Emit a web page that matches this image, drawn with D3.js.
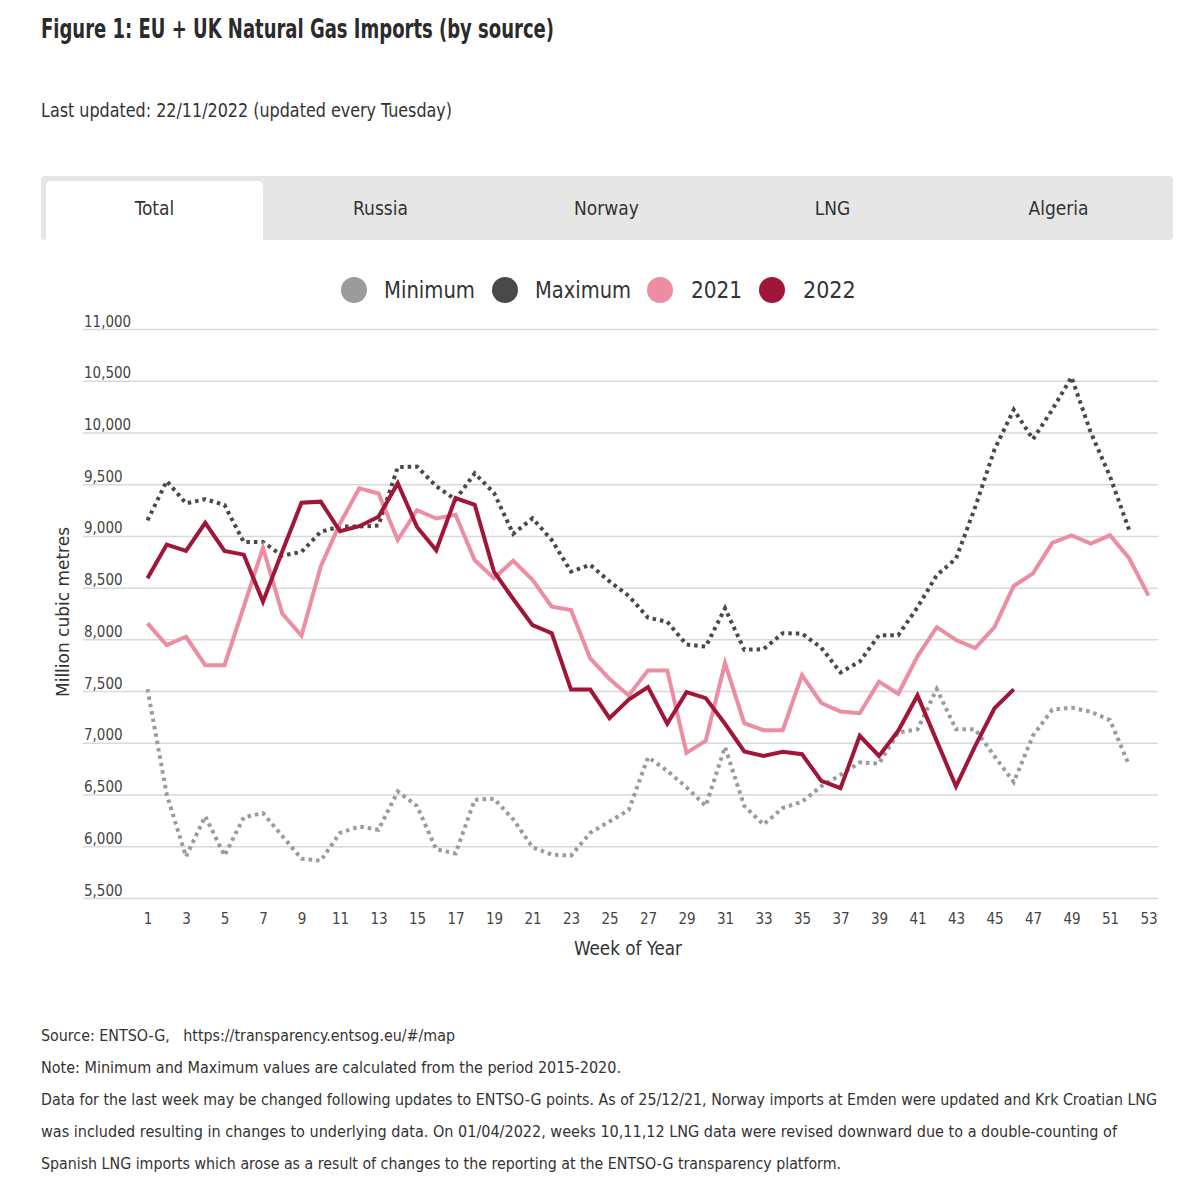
<!DOCTYPE html>
<html>
<head>
<meta charset="utf-8">
<script src="https://cdn.jsdelivr.net/npm/d3@7"></script>
<style>
  html, body { margin: 0; padding: 0; background: #fff; }
  svg { display: block; }
  text { font-family: "Liberation Sans Narrow", "DejaVu Sans Condensed", "Roboto Condensed", "Open Sans", sans-serif; }
</style>
</head>
<body>
<svg id="chart" width="1199" height="1192"></svg>
<script>
// ---- data ----
const weeks = [1,2,3,4,5,6,7,8,9,10,11,12,13,14,15,16,17,18,19,20,21,22,23,24,25,26,27,28,29,30,31,32,33,34,35,36,37,38,39,40,41,42,43,44,45,46,47,48,49,50,51,52,53];
const xTickLabels = [1,3,5,7,9,11,13,15,17,19,21,23,25,27,29,31,33,35,37,39,41,43,45,47,49,51,53];
const yTickLabels = [5500,6000,6500,7000,7500,8000,8500,9000,9500,10000,10500,11000];
const tabs = ["Total", "Russia", "Norway", "LNG", "Algeria"];
const seriesNames = ["Minimum", "Maximum", "2021", "2022"];

const minimum = [7520,6500,5900,6290,5910,6280,6320,6100,5880,5860,6130,6190,6160,6530,6390,5970,5930,6450,6460,6260,5990,5920,5910,6130,6240,6350,6860,6730,6570,6390,6960,6390,6210,6370,6430,6580,6690,6810,6800,7100,7130,7520,7130,7130,6870,6620,7070,7320,7340,7300,7220,6780];
const maximum = [9150,9530,9315,9355,9300,8940,8940,8810,8845,9040,9090,9090,9100,9665,9670,9480,9350,9605,9415,9020,9170,8960,8655,8720,8560,8420,8210,8170,7950,7930,8300,7900,7905,8060,8055,7920,7680,7785,8040,8040,8310,8620,8780,9280,9835,10220,9935,10220,10535,10000,9575,9055];
const y2021 = [8155,7945,8025,7750,7750,8315,8885,8250,8035,8705,9120,9460,9410,8960,9248,9168,9205,8765,8590,8760,8575,8316,8284,7816,7617,7458,7700,7700,6903,7019,7770,7190,7122,7122,7655,7385,7302,7286,7591,7474,7836,8118,7994,7915,8118,8516,8638,8933,9006,8926,9006,8782,8423];
const y2022 = [8590,8916,8855,9126,8855,8819,8365,8850,9321,9331,9045,9094,9185,9510,9087,8862,9365,9300,8654,8390,8138,8060,7515,7515,7239,7419,7539,7184,7490,7432,7184,6916,6874,6913,6890,6632,6561,7068,6874,7116,7458,7019,6578,6971,7334,7516];

const colors = { "Minimum": "#9b9b9b", "Maximum": "#494949", "2021": "#ec8da1", "2022": "#a01538" };

// ---- drawing ----
const svg = d3.select("#chart");

function fitText(sel, target) {
  sel.each(function() {
    const len = this.getComputedTextLength();
    if (Math.abs(len - target) / target > 0.02) {
      d3.select(this).attr("textLength", target).attr("lengthAdjust", "spacingAndGlyphs");
    }
  });
}

// Title & subtitle
svg.append("text").attr("x", 41).attr("y", 38)
  .attr("font-size", 27).attr("font-weight", "bold").attr("fill", "#2b2b2b")
  .text("Figure 1: EU + UK Natural Gas Imports (by source)")
  .call(fitText, 513);
svg.append("text").attr("x", 41).attr("y", 117)
  .attr("font-size", 19).attr("fill", "#333")
  .text("Last updated: 22/11/2022 (updated every Tuesday)")
  .call(fitText, 411);

// Tabs
svg.append("rect").attr("x", 41).attr("y", 176).attr("width", 1132).attr("height", 64)
  .attr("rx", 4).attr("fill", "#e6e6e6");
svg.append("path")
  .attr("d", "M46,240 V186 Q46,181 51,181 H258 Q263,181 263,186 V240 Z")
  .attr("fill", "#fff");
const tabX = d3.scalePoint().domain(tabs).range([154.5, 1058.5]);
svg.selectAll("text.tab").data(tabs).join("text").attr("class", "tab")
  .attr("x", d => tabX(d)).attr("y", 215).attr("text-anchor", "middle")
  .attr("font-size", 19).attr("fill", "#333").text(d => d);

// Legend
const legendItems = [
  { name: "Minimum", cx: 354, tx: 384, w: 91 },
  { name: "Maximum", cx: 505, tx: 535, w: 96 },
  { name: "2021", cx: 660, tx: 691, w: 51 },
  { name: "2022", cx: 772, tx: 803, w: 52 }
];
const lg = svg.append("g");
lg.selectAll("circle").data(legendItems).join("circle")
  .attr("cx", d => d.cx).attr("cy", 290).attr("r", 13)
  .attr("fill", d => colors[d.name]);
lg.selectAll("text").data(legendItems).join("text")
  .attr("x", d => d.tx).attr("y", 298).attr("font-size", 23).attr("fill", "#333")
  .text(d => d.name)
  .each(function(d) { d3.select(this).call(fitText, d.w); });

// Scales
const x = d3.scaleLinear().domain([1, 53]).range([147.5, 1148.5]);
const y = d3.scaleLinear().domain([5500, 11000]).range([898, 329]);

// Y axis with gridlines
const yAxis = d3.axisRight(y).tickValues(yTickLabels).tickSize(1158 - 83).tickFormat(d3.format(","));
const gy = svg.append("g").attr("transform", "translate(83,0)").call(yAxis);
gy.select(".domain").remove();
gy.selectAll(".tick line").attr("stroke", "#d9d9d9").attr("stroke-width", 1.5);
gy.selectAll(".tick text").attr("x", 1).attr("dy", -3).attr("text-anchor", "start")
  .attr("font-size", 15).attr("fill", "#444");
gy.attr("font-family", null);

// X axis
const xAxis = d3.axisBottom(x).tickValues(xTickLabels).tickSize(0).tickFormat(d3.format("d"));
const gx = svg.append("g").attr("transform", "translate(0,910)").call(xAxis);
gx.select(".domain").remove();
gx.selectAll(".tick text").attr("font-size", 15).attr("fill", "#444").attr("dy", "0.71em");
gx.attr("font-family", null);

// Axis titles
svg.append("text").attr("transform", "translate(69,612) rotate(-90)")
  .attr("text-anchor", "middle").attr("font-size", 18).attr("fill", "#333")
  .text("Million cubic metres").call(fitText, 170);
svg.append("text").attr("x", 628).attr("y", 955).attr("text-anchor", "middle")
  .attr("font-size", 20).attr("fill", "#333").text("Week of Year").call(fitText, 108);

// Lines
const line = d3.line().x((d, i) => x(weeks[i])).y(d => y(d));
const plot = svg.append("g");
plot.append("path").datum(minimum).attr("d", line).attr("fill", "none")
  .attr("stroke", colors["Minimum"]).attr("stroke-width", 4).attr("stroke-dasharray", "3.5,4");
plot.append("path").datum(maximum).attr("d", line).attr("fill", "none")
  .attr("stroke", colors["Maximum"]).attr("stroke-width", 4).attr("stroke-dasharray", "3.5,4");
plot.append("path").datum(y2021).attr("d", line).attr("fill", "none")
  .attr("stroke", colors["2021"]).attr("stroke-width", 4).attr("stroke-linejoin", "miter");
plot.append("path").datum(y2022).attr("d", line).attr("fill", "none")
  .attr("stroke", colors["2022"]).attr("stroke-width", 4).attr("stroke-linejoin", "miter");

// Footer
const footer = [
  { t: "Source: ENTSO-G,   https://transparency.entsog.eu/#/map", y: 1041, w: 414 },
  { t: "Note: Minimum and Maximum values are calculated from the period 2015-2020.", y: 1073, w: 580 },
  { t: "Data for the last week may be changed following updates to ENTSO-G points. As of 25/12/21, Norway imports at Emden were updated and Krk Croatian LNG", y: 1105, w: 1116 },
  { t: "was included resulting in changes to underlying data. On 01/04/2022, weeks 10,11,12 LNG data were revised downward due to a double-counting of", y: 1137, w: 1076 },
  { t: "Spanish LNG imports which arose as a result of changes to the reporting at the ENTSO-G transparency platform.", y: 1169, w: 800 }
];
svg.selectAll("text.foot").data(footer).join("text").attr("class", "foot")
  .attr("x", 41).attr("y", d => d.y).attr("font-size", 15).attr("fill", "#333")
  .attr("xml:space", "preserve").style("white-space", "pre")
  .text(d => d.t)
  .each(function(d) { d3.select(this).call(fitText, d.w); });
</script>
</body>
</html>
